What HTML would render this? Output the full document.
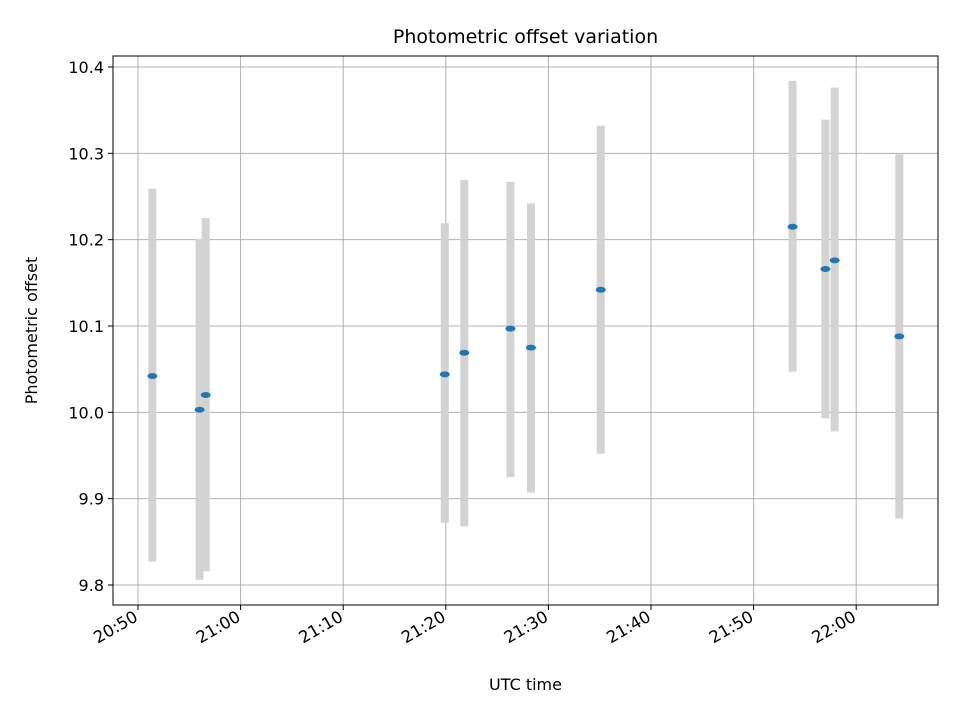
<!DOCTYPE html>
<html><head><meta charset="utf-8"><style>
body{margin:0;background:#fff;font-family:"Liberation Sans","DejaVu Sans",sans-serif}
</style></head><body>
<svg id="chart" width="960" height="720" xmlns="http://www.w3.org/2000/svg" font-family="DejaVu Sans, Liberation Sans, sans-serif">
<rect width="960" height="720" fill="#fff"/>
<g id="grid"></g><g id="marks"></g><g id="axes"></g>
</svg>
<script>
const times = [1.4, 6.0, 6.6, 29.9, 31.8, 36.3, 38.3, 45.1, 63.8, 67.0, 67.9, 74.2]; // minutes after 20:50
const offsets = [10.042, 10.003, 10.020, 10.044, 10.069, 10.097, 10.075, 10.142, 10.215, 10.166, 10.176, 10.088];
const errTop = [10.259, 10.201, 10.225, 10.219, 10.269, 10.267, 10.242, 10.332, 10.384, 10.339, 10.376, 10.299];
const errBottom = [9.827, 9.806, 9.816, 9.872, 9.868, 9.925, 9.907, 9.952, 10.047, 9.993, 9.978, 9.877];
const xTicks = [0, 10, 20, 30, 40, 50, 60, 70];
const xTickLabels = ["20:50","21:00","21:10","21:20","21:30","21:40","21:50","22:00"];
const yTicks = [9.8, 9.9, 10.0, 10.1, 10.2, 10.3, 10.4];
const yTickLabels = ["9.8","9.9","10.0","10.1","10.2","10.3","10.4"];

const L=113,R=938,T=56,B=605;
const sx=m=>138+m*10.26;
const sy=v=>67+(10.4-v)*863.3;
const NS="http://www.w3.org/2000/svg";
function mk(parent,tag,attrs){const e=document.createElementNS(NS,tag);for(const k in attrs)e.setAttribute(k,attrs[k]);parent.appendChild(e);return e;}
const grid=document.getElementById('grid'),marks=document.getElementById('marks'),axes=document.getElementById('axes');

xTicks.forEach((t,i)=>{
  const x=sx(t);
  const g=mk(grid,'line',{x1:x,x2:x,y1:T,y2:B,stroke:'#b0b0b0','stroke-width':1});
  
  
  const tk=mk(axes,'line',{x1:x,x2:x,y1:B,y2:B+5,stroke:'#000'});
  
  
  const tx=mk(axes,'text',{x:0,y:0,'font-size':16.5,'text-anchor':'end',transform:`translate(${x+1},${B+15}) rotate(-30)`});
  tx.textContent=xTickLabels[i];
  
  
});
yTicks.forEach((t,i)=>{
  const y=sy(t);
  const g=mk(grid,'line',{x1:L,x2:R,y1:y,y2:y,stroke:'#b0b0b0','stroke-width':1});
  
  
  const tk=mk(axes,'line',{x1:L-5,x2:L,y1:y,y2:y,stroke:'#000'});
  
  
  const tx=mk(axes,'text',{x:L-9,y:y+6,'font-size':16,'text-anchor':'end'});
  tx.textContent=yTickLabels[i];
  
  
});
times.forEach((t,i)=>{
  const x=sx(t);
  const eb=mk(marks,'rect',{x:x-4,y:sy(errTop[i]),width:8,height:sy(errBottom[i])-sy(errTop[i]),fill:'#d3d3d3'});
  
  
});
times.forEach((t,i)=>{
  const p=mk(marks,'ellipse',{cx:sx(t),cy:sy(offsets[i]),rx:5,ry:3,fill:'#1f77b4'});
  
  
});
const frame=mk(axes,'rect',{x:L,y:T,width:R-L,height:B-T,fill:'none',stroke:'#000','stroke-width':1});


const title=mk(axes,'text',{x:(L+R)/2,y:43,'font-size':19,'text-anchor':'middle'});
title.textContent='Photometric offset variation';


const xl=mk(axes,'text',{x:(L+R)/2,y:690,'font-size':16,'text-anchor':'middle'});
xl.textContent='UTC time';


const yl=mk(axes,'text',{x:0,y:0,'font-size':16,'text-anchor':'middle',transform:`translate(37,${(T+B)/2}) rotate(-90)`});
yl.textContent='Photometric offset';


</script>
</body></html>
